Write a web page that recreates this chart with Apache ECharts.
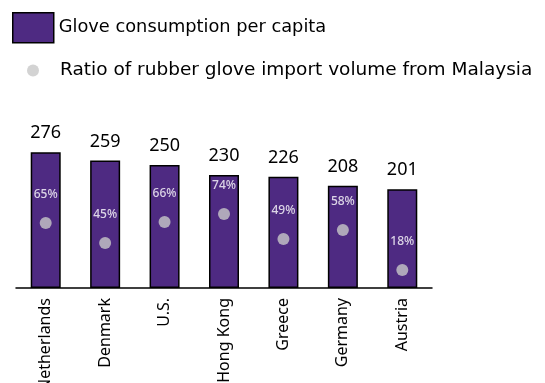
<!DOCTYPE html>
<html><head><meta charset="utf-8">
<script src="https://cdn.jsdelivr.net/npm/echarts@6/dist/echarts.min.js"></script>
<style>html,body{margin:0;padding:0;background:#fff}#c{width:545px;height:383px}</style>
</head><body><div id="c"></div>
<script>
const categories = ['Netherlands','Denmark','U.S.','Hong Kong','Greece','Germany','Austria'];
const consumption = [276,259,250,230,226,208,201];
const ratio = [65,45,66,74,49,58,18];
const seriesNames = ['Glove consumption per capita','Ratio of rubber glove import volume from Malaysia'];

const chart = echarts.init(document.getElementById('c'), null, {renderer:'canvas'});
const F = '"Noto Sans", sans-serif';
const LF = '"DejaVu Sans", sans-serif';
chart.setOption({
  animation:false,
  grid:{left:16,right:113,top:138,bottom:95,containLabel:false,outerBoundsMode:'none'},
  legend:[
    {data:[seriesNames[0]], left:12, top:12, padding:0, itemWidth:41, itemHeight:30, icon:'rect',
     itemStyle:{borderColor:'#000', borderWidth:1.5},
     textStyle:{fontFamily:LF,fontSize:17.8,color:'#000'}},
    {data:[seriesNames[1]], left:27, top:61, padding:0, itemWidth:12, itemHeight:12, icon:'circle',
     itemStyle:{borderWidth:0},
     textStyle:{fontFamily:LF,fontSize:18.5,color:'#000', padding:[0,0,0,16]}}
  ],
  xAxis:{type:'category', data:categories,
    axisLine:{lineStyle:{color:'#000',width:1.5}}, axisTick:{show:false},
    axisLabel:{rotate:90, margin:10, fontFamily:F, fontSize:16, color:'#000', interval:0}},
  yAxis:[
    {type:'value', min:0, max:305, show:false, splitLine:{show:false}},
    {type:'value', min:0, max:150, show:false, splitLine:{show:false}}
  ],
  series:[
    {name:seriesNames[0], type:'bar', data:consumption, barWidth:30, yAxisIndex:0,
     itemStyle:{color:'#4e2a82', borderColor:'#000', borderWidth:1.5},
     label:{show:true, position:'top', distance:10, fontFamily:F, fontSize:18, color:'#000'}},
    {name:seriesNames[1], type:'scatter', data:ratio, yAxisIndex:1, symbolSize:12,
     itemStyle:{color:'#c8c8c8'},
     label:{show:true, position:'top', distance:16, fontFamily:F, fontSize:12, color:'#fff', fontWeight:500,
       formatter:p=>p.value+'%'}}
  ]
});
</script></body></html>
